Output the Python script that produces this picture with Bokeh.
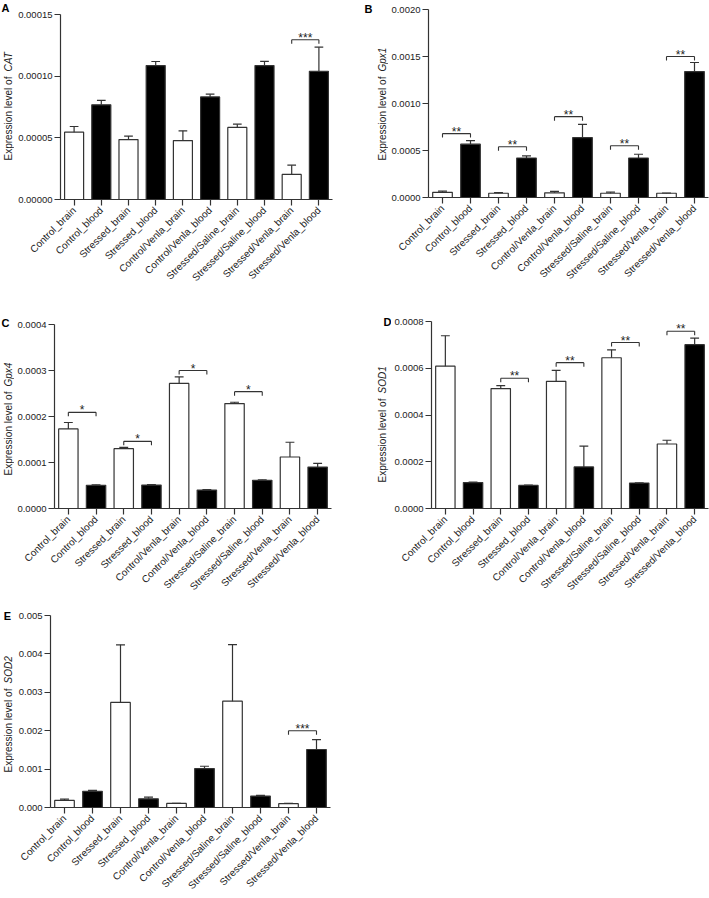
import math
from bokeh.plotting import figure
from bokeh.models import (ColumnDataSource, FactorRange, Range1d, FixedTicker,
                          PrintfTickFormatter)
from bokeh.transform import dodge
from bokeh.layouts import row, column
from bokeh.embed import file_html
from bokeh.resources import INLINE
from bokeh.core.properties import value

# ---------------- data ----------------
groups = ["Control_brain", "Control_blood", "Stressed_brain", "Stressed_blood",
          "Control/Venla_brain", "Control/Venla_blood", "Stressed/Saline_brain",
          "Stressed/Saline_blood", "Stressed/Venla_brain", "Stressed/Venla_blood"]

cat_mean = [0.0000546, 0.0000768, 0.0000486, 0.0001086, 0.0000478,
            0.0000832, 0.0000584, 0.0001086, 0.0000203, 0.0001040]
cat_sem = [0.0000046, 0.0000035, 0.0000028, 0.0000033, 0.0000079,
           0.0000022, 0.0000027, 0.0000034, 0.0000075, 0.0000195]
cat_sig = [(8, 9, 0.0001295, "***")]

gpx1_mean = [0.000055, 0.000567, 0.000045, 0.000420, 0.000050,
             0.000638, 0.000045, 0.000420, 0.000045, 0.001340]
gpx1_sem = [0.000012, 0.000038, 0.000006, 0.000022, 0.000015,
            0.000140, 0.000012, 0.000040, 0.000003, 0.000096]
gpx1_sig = [(0, 1, 0.00068, "**"), (2, 3, 0.00054, "**"), (4, 5, 0.00086, "**"),
            (6, 7, 0.00055, "**"), (8, 9, 0.00150, "**")]

gpx4_mean = [0.000173, 0.0000505, 0.000130, 0.000051, 0.000272,
             0.000040, 0.000228, 0.0000613, 0.000112, 0.000090]
gpx4_sem = [0.000014, 0.000001, 0.000003, 0.000001, 0.000014,
            0.000001, 0.000003, 0.000001, 0.000032, 0.000008]
gpx4_sig = [(0, 1, 0.000209, "*"), (2, 3, 0.000146, "*"), (4, 5, 0.000300, "*"),
            (6, 7, 0.000254, "*")]

sod1_mean = [0.000609, 0.000111, 0.000513, 0.0000987, 0.000544,
             0.000178, 0.000645, 0.000109, 0.000276, 0.000701]
sod1_sem = [0.000130, 0.000002, 0.000013, 0.000001, 0.000047,
            0.000089, 0.000034, 0.000001, 0.000016, 0.000028]
sod1_sig = [(2, 3, 0.000557, "**"), (4, 5, 0.000624, "**"), (6, 7, 0.000710, "**"),
            (8, 9, 0.000758, "**")]

sod2_mean = [0.000184, 0.000420, 0.002736, 0.000227, 0.000105,
             0.001014, 0.002770, 0.000297, 0.000100, 0.001510]
sod2_sem = [0.000036, 0.000026, 0.001500, 0.000043, 0.000005,
            0.000060, 0.001470, 0.000018, 0.000005, 0.000260]
sod2_sig = [(8, 9, 0.0020, "***")]

FONT = "Liberation Sans"
INK = "#222222"
LINE = "#333333"


def panel(letter, gene, means, sems, sig, ymax, step, fmt,
          lab_w, width, height, borders, letter_xy, ylab_x, ylab_start):
    left, right, top, bottom = borders
    fh = height - top - bottom

    # narrow side figure holding the panel letter and the y-axis title
    lab = figure(width=lab_w, height=height, x_range=Range1d(0, lab_w),
                 y_range=Range1d(0, height), output_backend="svg",
                 toolbar_location=None, title=None, min_border=0,
                 x_axis_location=None, y_axis_location=None)
    lab.outline_line_color = None
    lab.xgrid.visible = False
    lab.ygrid.visible = False
    lab.text(x=[letter_xy[0]], y=[height - top + letter_xy[1]], text=[letter],
             text_font=value(FONT), text_font_style="bold", text_font_size="11px",
             text_align="center", text_baseline="middle", text_color="black")
    lab.text(x=[ylab_x], y=[bottom + ylab_start], text=["Expression level of"],
             angle=math.pi / 2, text_font=value(FONT), text_font_size="10px",
             text_align="left", text_baseline="middle", text_color=INK)
    lab.text(x=[ylab_x], y=[bottom + ylab_start + 89], text=[gene],
             angle=math.pi / 2, text_font=value(FONT), text_font_size="10px",
             text_font_style="italic",
             text_align="left", text_baseline="middle", text_color=INK)

    p = figure(x_range=FactorRange(factors=groups, range_padding=0),
               y_range=Range1d(0, ymax), width=width, height=height,
               output_backend="svg", toolbar_location=None, title=None,
               min_border_left=left, min_border_right=right,
               min_border_top=top, min_border_bottom=bottom)
    p.outline_line_color = None
    p.xgrid.visible = False
    p.ygrid.visible = False
    p.background_fill_color = "white"

    upper = [m + s for m, s in zip(means, sems)]
    fills = ["black" if g.endswith("blood") else "white" for g in groups]
    src = ColumnDataSource(dict(c=groups, m=means, u=upper, f=fills))

    p.vbar(x="c", top="m", width=0.7, source=src, fill_color="f",
           line_color=LINE, line_width=1.2)
    p.segment(x0="c", y0="m", x1="c", y1="u", source=src,
              line_color=LINE, line_width=1.2)
    p.segment(x0=dodge("c", -0.16, range=p.x_range), y0="u",
              x1=dodge("c", 0.16, range=p.x_range), y1="u", source=src,
              line_color=LINE, line_width=1.2)

    tick = ymax * 4.0 / fh
    bsrc = ColumnDataSource(dict(
        xi=[groups[a] for a, b, y, t in sig],
        xj=[groups[b] for a, b, y, t in sig],
        y=[y for a, b, y, t in sig],
        yd=[y - tick for a, b, y, t in sig],
        t=[t for a, b, y, t in sig]))
    p.segment(x0="xi", y0="y", x1="xj", y1="y", source=bsrc,
              line_color=LINE, line_width=1.1)
    p.segment(x0="xi", y0="y", x1="xi", y1="yd", source=bsrc,
              line_color=LINE, line_width=1.1)
    p.segment(x0="xj", y0="y", x1="xj", y1="yd", source=bsrc,
              line_color=LINE, line_width=1.1)
    p.text(x=dodge("xi", 0.5, range=p.x_range), y="y", text="t", source=bsrc,
           text_align="center", text_baseline="alphabetic", y_offset=-2,
           text_font=value(FONT), text_font_size="12px", text_color=INK)

    ax = p.xaxis[0]
    ax.axis_line_color = LINE
    ax.axis_line_width = 1.2
    ax.major_tick_line_color = LINE
    ax.major_tick_line_width = 1.2
    ax.major_tick_out = 6
    ax.major_tick_in = 0
    ax.major_label_orientation = math.pi / 4
    ax.major_label_text_font = FONT
    ax.major_label_text_font_size = "10px"
    ax.major_label_text_color = INK
    ax.major_label_standoff = 3

    ay = p.yaxis[0]
    n = int(round(ymax / step))
    ay.ticker = FixedTicker(ticks=[round(i * step, 10) for i in range(n + 1)])
    ay.formatter = PrintfTickFormatter(format=fmt)
    ay.axis_line_color = LINE
    ay.axis_line_width = 1.2
    ay.major_tick_line_color = LINE
    ay.major_tick_line_width = 1.2
    ay.major_tick_out = 6
    ay.major_tick_in = 0
    ay.minor_tick_out = 0
    ay.minor_tick_in = 0
    ay.major_label_text_font = FONT
    ay.major_label_text_font_size = "9.5px"
    ay.major_label_text_color = INK
    ay.major_label_standoff = 2

    # wrapping the side figure keeps its frame independent of the plot's frame
    return row(column(lab, spacing=0), p, spacing=0)


pA = panel("A", "CAT", cat_mean, cat_sem, cat_sig, 0.00015, 0.00005, "%.5f",
           14, 341, 300, (46, 23, 14, 101), (5, 7), 8, 39)
pB = panel("B", "Gpx1", gpx1_mean, gpx1_sem, gpx1_sig, 0.002, 0.0005, "%.4f",
           33, 321, 300, (39, 1, 9, 103), (13, 1), 27, 37)
pC = panel("C", "Gpx4", gpx4_mean, gpx4_sem, gpx4_sig, 0.0004, 0.0001, "%.4f",
           14, 341, 300, (39, 24, 24, 92), (5, 2), 8, 33)
pD = panel("D", "SOD1", sod1_mean, sod1_sem, sod1_sig, 0.0008, 0.0002, "%.4f",
           36, 318, 300, (37, 1, 21, 92), (32, 0), 27, 26)
pE = panel("E", "SOD2", sod2_mean, sod2_sem, sod2_sig, 0.005, 0.001, "%.3f",
           14, 341, 298, (36, 25, 15, 91), (7, 0), 8, 35)

layout = column(row(pA, pB, spacing=0), row(pC, pD, spacing=0), pE, spacing=0)
open("out.html", "w").write(file_html(layout, INLINE))
